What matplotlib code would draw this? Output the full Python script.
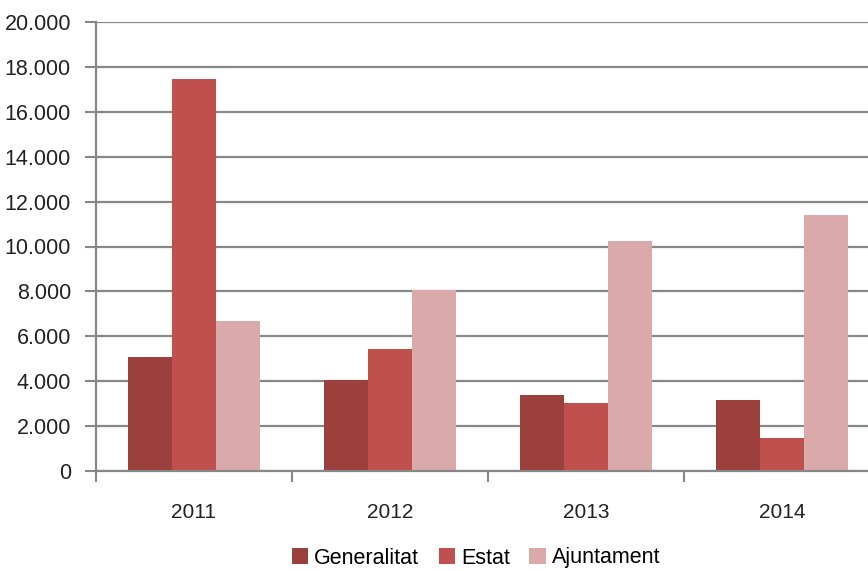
import numpy as np
import matplotlib.pyplot as plt
from matplotlib.ticker import FuncFormatter, FixedLocator

plt.rcParams['font.family'] = ['Liberation Sans Narrow', 'Liberation Sans', 'DejaVu Sans']

years = ['2011', '2012', '2013', '2014']
series = ['Generalitat', 'Estat', 'Ajuntament']
generalitat = [5100, 4050, 3400, 3150]
estat = [17450, 5450, 3050, 1450]
ajuntament = [6700, 8050, 10250, 11400]
colors = ['#9C403E', '#C0504D', '#DAA9A9']

fig = plt.figure(figsize=(8.68, 5.71), dpi=100)
# axes runs slightly past the right edge, like the cropped original
ax = fig.add_axes([96/868, 1 - 471/571, 784/868, 449/571])

x = np.arange(len(years))
w = 0.225
for i, (vals, c, name) in enumerate(zip([generalitat, estat, ajuntament], colors, series)):
    ax.bar(x + (i - 1) * w, vals, width=w, color=c, label=name, zorder=3)

ax.set_xlim(-0.5, 3.5)
ax.set_ylim(0, 20000)
ax.set_yticks(np.arange(0, 20001, 2000))
ax.yaxis.set_major_formatter(FuncFormatter(lambda v, p: f'{int(v):,}'.replace(',', '.')))
ax.grid(axis='y', color='#878787', linewidth=1.6, zorder=0)

ax.set_xticks(x)
ax.set_xticklabels(years)
ax.xaxis.set_minor_locator(FixedLocator([-0.5, 0.5, 1.5, 2.5, 3.5]))
ax.tick_params(axis='x', which='major', length=0, pad=23, labelsize=15, colors='#222222')
ax.tick_params(axis='x', which='minor', length=8, width=1.5, color='#878787', direction='out')
ax.tick_params(axis='y', length=8, width=1.5, color='#878787', pad=10, labelsize=15.5, labelcolor='#222222')

for s in ['top', 'right']:
    ax.spines[s].set_visible(False)
for s in ['left', 'bottom']:
    ax.spines[s].set_color('#878787')
    ax.spines[s].set_linewidth(1.6)
ax.spines['bottom'].set_zorder(4)

fig.legend(loc='center', bbox_to_anchor=(476/868, 1 - 558/571), ncol=3, frameon=False,
           fontsize=15.5, handlelength=0.75, handleheight=0.75, handletextpad=0.3,
           columnspacing=0.9)

fig.savefig('out.png', dpi=100)
